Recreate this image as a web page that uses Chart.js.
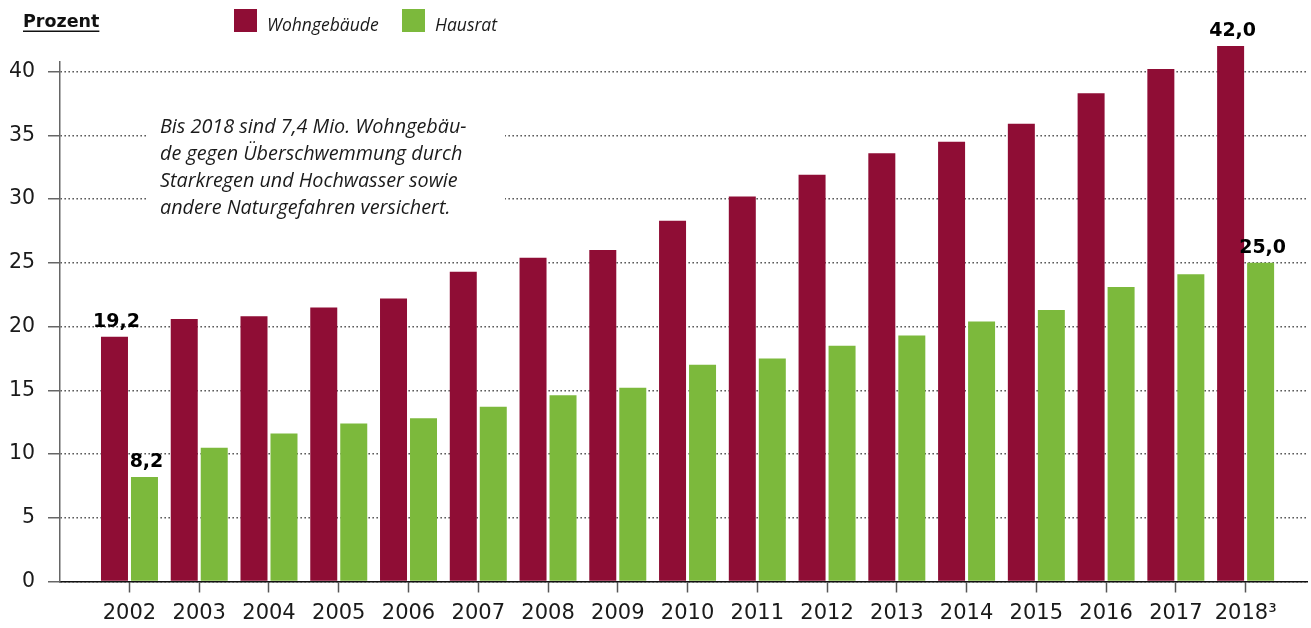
<!DOCTYPE html>
<html>
<head>
<meta charset="utf-8">
<script src="https://cdn.jsdelivr.net/npm/chart.js@4"></script>
<style>
  html, body { margin: 0; padding: 0; background: #fff; }
  #wrap { width: 1311px; height: 628px; }
</style>
</head>
<body>
<div id="wrap"><canvas id="c" width="1311" height="628"></canvas></div>
<script>
// Versicherungsdichte Elementarschaden, Anteil in Prozent
const years = ['2002', '2003', '2004', '2005', '2006', '2007', '2008', '2009', '2010',
               '2011', '2012', '2013', '2014', '2015', '2016', '2017', '2018\u00B3'];
const wohngebaeude = [19.2, 20.6, 20.8, 21.5, 22.2, 24.3, 25.4, 26.0, 28.3,
                      30.2, 31.9, 33.6, 34.5, 35.9, 38.3, 40.2, 42.0];
const hausrat = [8.2, 10.5, 11.6, 12.4, 12.8, 13.7, 14.6, 15.2, 17.0,
                 17.5, 18.5, 19.3, 20.4, 21.3, 23.1, 24.1, 25.0];
const yTicks = [0, 5, 10, 15, 20, 25, 30, 35, 40];
const labelledIndices = [0, 16];
const seriesNames = ['Wohngebäude', 'Hausrat'];
const seriesColors = ['#8f0d35', '#7cb93c'];
const axisTitle = 'Prozent';
const noteLines = [
  'Bis 2018 sind 7,4 Mio. Wohngebäu-',
  'de gegen Überschwemmung durch',
  'Starkregen und Hochwasser sowie',
  'andere Naturgefahren versichert.'
];

const fmt = v => v.toFixed(1).replace('.', ',');
const toPoints = arr => arr.map((v, i) => ({ x: i, y: v }));

// white box behind the note, drawn over the grid but under the bars
const noteBox = {
  id: 'noteBox',
  beforeDatasetsDraw(chart) {
    const ctx = chart.ctx;
    ctx.save();
    ctx.fillStyle = '#fff';
    ctx.fillRect(147, 104, 358, 120);
    ctx.restore();
  }
};

// title, legend, note and value labels
const decorations = {
  id: 'decorations',
  afterDraw(chart) {
    const ctx = chart.ctx;
    ctx.save();

    // axis title, underlined
    ctx.fillStyle = '#111';
    ctx.font = 'bold 17.5px "DejaVu Sans"';
    ctx.textBaseline = 'alphabetic';
    ctx.textAlign = 'left';
    ctx.fillText(axisTitle, 23, 27);
    const tw = ctx.measureText(axisTitle).width;
    ctx.fillRect(23, 30.5, tw, 1.5);

    // legend
    const legendX = [234, 402];
    ctx.font = 'italic 17.5px "Open Sans"';
    seriesNames.forEach((name, i) => {
      ctx.fillStyle = seriesColors[i];
      ctx.fillRect(legendX[i], 9, 23, 23);
      ctx.fillStyle = '#1a1a1a';
      ctx.fillText(name, legendX[i] + 33, 31);
    });

    // note
    ctx.font = 'italic 19.8px "Open Sans"';
    ctx.fillStyle = '#1a1a1a';
    noteLines.forEach((line, i) => ctx.fillText(line, 160, 133 + i * 27));

    // value labels on first and last year
    ctx.font = 'bold 19px "DejaVu Sans"';
    ctx.textAlign = 'center';
    ctx.fillStyle = '#000';
    chart.data.datasets.forEach((ds, di) => {
      const meta = chart.getDatasetMeta(di);
      labelledIndices.forEach(idx => {
        const bar = meta.data[idx];
        ctx.fillText(fmt(ds.data[idx].y), bar.x + 2, bar.y - 10);
      });
    });
    ctx.restore();
  }
};

new Chart(document.getElementById('c'), {
  type: 'bar',
  data: {
    datasets: [
      { label: seriesNames[0], data: toPoints(wohngebaeude), backgroundColor: seriesColors[0],
        borderWidth: 0, clip: false },
      { label: seriesNames[1], data: toPoints(hausrat), backgroundColor: seriesColors[1],
        borderWidth: 0, clip: false }
    ]
  },
  options: {
    responsive: false,
    animation: false,
    devicePixelRatio: 1,
    categoryPercentage: 0.86,
    barPercentage: 0.9,
    layout: { padding: { top: 62, right: 4, left: 0, bottom: 0 } },
    plugins: { legend: { display: false }, tooltip: { enabled: false } },
    scales: {
      x: {
        type: 'linear',
        min: -0.996,
        max: 16.88,
        offset: false,
        afterBuildTicks: s => { s.ticks = years.map((_, i) => ({ value: i })); },
        afterFit: s => { s.height = 46.5; },
        ticks: {
          autoSkip: false, maxRotation: 0, padding: 8,
          font: { family: 'DejaVu Sans', size: 21 }, color: '#1a1a1a',
          callback: v => years[v]
        },
        grid: { offset: false, drawOnChartArea: false, tickLength: 11, tickColor: '#555', tickWidth: 1.5 },
        border: { color: '#111', width: 1.5 }
      },
      y: {
        min: 0,
        max: 40.75,
        afterBuildTicks: s => { s.ticks = yTicks.map(v => ({ value: v })); },
        afterFit: s => { s.width = 60; },
        ticks: { padding: 13, font: { family: 'DejaVu Sans', size: 20.5 }, color: '#1a1a1a' },
        grid: { color: '#333', lineWidth: 1.5, tickLength: 12, tickColor: '#666', tickWidth: 1.5, tickBorderDash: [] },
        border: { color: '#666', width: 1.5, dash: [1.3, 2.7] }
      }
    }
  },
  plugins: [noteBox, decorations]
});
</script>
</body>
</html>
